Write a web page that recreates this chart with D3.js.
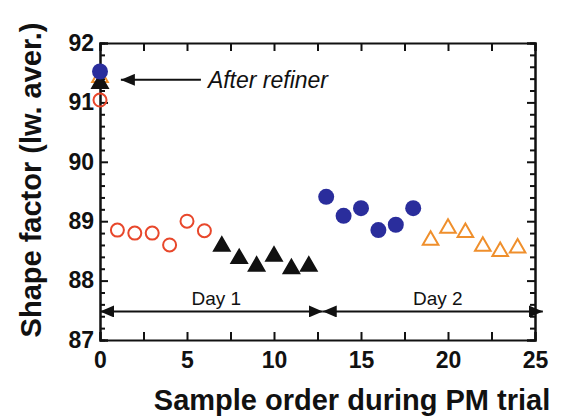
<!DOCTYPE html>
<html>
<head>
<meta charset="utf-8">
<script src="https://cdn.jsdelivr.net/npm/d3@7"></script>
<style>
  body { margin: 0; background: #fff; }
  text { font-family: "Liberation Sans", Arial, sans-serif; }
  .axis text { font-weight: bold; font-size: 23px; fill: #111; }
  .axis path, .axis line { stroke: #111; stroke-width: 2; }
</style>
</head>
<body>
<div id="container"></div>
<script>
'use strict';

//Data: sample order -> shape factor
const redX = [0, 1, 2, 3, 4, 5, 6];
const redY = [91.04, 88.85, 88.80, 88.80, 88.60, 89.00, 88.84];
const blackX = [0, 7, 8, 9, 10, 11, 12];
const blackY = [91.32, 88.58, 88.37, 88.24, 88.41, 88.20, 88.24];
const orangeX = [0, 19, 20, 21, 22, 23, 24];
const orangeY = [91.42, 88.68, 88.88, 88.81, 88.58, 88.49, 88.55];
const blueX = [0, 13, 14, 15, 16, 17, 18];
const blueY = [91.52, 89.41, 89.09, 89.22, 88.85, 88.94, 89.22];

const xTicks = [0, 5, 10, 15, 20, 25];
const yTicks = [87, 88, 89, 90, 91, 92];
const days = [
    {label: 'Day 1', from: 0, to: 12.8},
    {label: 'Day 2', from: 12.8, to: 25.45},
];
const dayLevel = 87.48;

//Sizing
const VIZ = {
    WIDTH: 569,
    HEIGHT: 418,
    MARGIN: {LEFT: 100, TOP: 43, RIGHT: 34, BOTTOM: 78}
};
const width = VIZ.WIDTH - VIZ.MARGIN.LEFT - VIZ.MARGIN.RIGHT;
const height = VIZ.HEIGHT - VIZ.MARGIN.TOP - VIZ.MARGIN.BOTTOM;

const svg = d3.select('#container')
    .append('svg')
    .attr('width', VIZ.WIDTH)
    .attr('height', VIZ.HEIGHT);
const vis = svg.append('g')
    .attr('transform', `translate(${VIZ.MARGIN.LEFT} ${VIZ.MARGIN.TOP})`);

const x = d3.scaleLinear().domain([0, 25]).range([0, width]);
const y = d3.scaleLinear().domain([87, 92]).range([height, 0]);

const minorY = d3.range(87, 92.001, 0.2).map(v => +v.toFixed(1)).filter(v => !yTicks.includes(v));
const quarterX = d3.range(0, 25.001, 2.5);

//Axes, ticks pointing inward
drawAxis(d3.axisLeft(y).tickValues(yTicks).tickSize(-8).tickPadding(6).tickFormat(d3.format('d')), 0, 0);
drawAxis(d3.axisLeft(y).tickValues(minorY).tickSize(-5).tickFormat(''), 0, 0);
drawAxis(d3.axisRight(y).tickValues(yTicks).tickSize(-8).tickFormat(''), width, 0);
drawAxis(d3.axisRight(y).tickValues(minorY).tickSize(-5).tickFormat(''), width, 0);
drawAxis(d3.axisBottom(x).tickValues(quarterX).tickSize(-8).tickPadding(12)
    .tickFormat(d => xTicks.includes(d) ? d : ''), 0, height);
drawAxis(d3.axisTop(x).tickValues(quarterX).tickSize(-8).tickFormat(''), 0, 0);

//Arrow heads
const defs = svg.append('defs');
defs.append('marker')
    .attr('id', 'head')
    .attr('viewBox', '0 0 14 12')
    .attr('refX', 14).attr('refY', 6)
    .attr('markerWidth', 14).attr('markerHeight', 12)
    .attr('markerUnits', 'userSpaceOnUse')
    .attr('orient', 'auto-start-reverse')
    .append('path').attr('d', 'M0,0 L14,6 L0,12 Z').attr('fill', '#111');

//Day ranges
days.forEach(d => {
    vis.append('line')
        .attr('x1', x(d.from)).attr('x2', x(d.to))
        .attr('y1', y(dayLevel)).attr('y2', y(dayLevel))
        .attr('stroke', '#111').attr('stroke-width', 2)
        .attr('marker-start', 'url(#head)')
        .attr('marker-end', 'url(#head)');
    vis.append('text')
        .attr('x', (x(d.from) + x(d.to)) / 2 + 5)
        .attr('y', y(dayLevel) - 6)
        .attr('text-anchor', 'middle')
        .attr('font-size', 19)
        .attr('fill', '#111')
        .text(d.label);
});

//"After refiner" pointer
vis.append('line')
    .attr('x1', x(5.8)).attr('x2', x(1.2))
    .attr('y1', y(91.38)).attr('y2', y(91.38))
    .attr('stroke', '#111').attr('stroke-width', 2)
    .attr('marker-end', 'url(#head)');
vis.append('text')
    .attr('x', x(6.2)).attr('y', y(91.38) + 8)
    .attr('font-size', 23).attr('font-style', 'italic')
    .attr('fill', '#111')
    .text('After refiner');

//Markers
const tri = d3.symbol().type(d3.symbolTriangle).size(105);
drawTriangles(orangeX, orangeY, 'none', '#ef8f2c');
drawTriangles(blackX, blackY, '#111', '#111');
drawCircles(redX, redY, 6.5, 'none', '#e8472b');
drawCircles(blueX, blueY, 8, '#2a2d9c', 'none');

//Axis titles
svg.append('text')
    .attr('x', 352).attr('y', 410)
    .attr('text-anchor', 'middle')
    .attr('font-size', 29).attr('font-weight', 'bold')
    .attr('fill', '#111')
    .text('Sample order during PM trial');
svg.append('text')
    .attr('transform', 'translate(41 180) rotate(-90)')
    .attr('text-anchor', 'middle')
    .attr('font-size', 29).attr('font-weight', 'bold')
    .attr('fill', '#111')
    .text('Shape factor (lw. aver.)');

function drawAxis(axis, left, top) {
    vis.append('g')
        .attr('class', 'axis')
        .attr('transform', `translate(${left} ${top})`)
        .call(axis);
}

function drawCircles(xs, ys, r, fill, stroke) {
    vis.append('g').selectAll('circle')
        .data(xs.map((v, i) => [v, ys[i]]))
        .join('circle')
        .attr('cx', d => x(d[0]))
        .attr('cy', d => y(d[1]))
        .attr('r', r)
        .attr('fill', fill)
        .attr('stroke', stroke)
        .attr('stroke-width', 2);
}

function drawTriangles(xs, ys, fill, stroke) {
    vis.append('g').selectAll('path')
        .data(xs.map((v, i) => [v, ys[i]]))
        .join('path')
        .attr('d', tri)
        .attr('transform', d => `translate(${x(d[0])} ${y(d[1])})`)
        .attr('fill', fill)
        .attr('stroke', stroke)
        .attr('stroke-width', 2);
}
</script>
</body>
</html>
